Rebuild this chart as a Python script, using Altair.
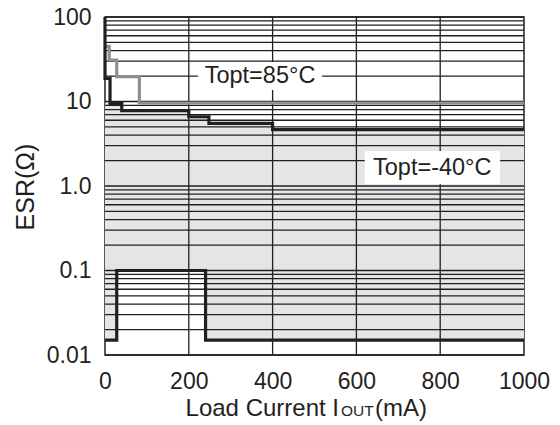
import altair as alt
import pandas as pd

# ---- data ----
# Topt = -40 C upper boundary (black)
black_x = [0, 0, 12, 40, 200, 248, 400, 1000]
black_y = [100, 18.8, 9.5, 7.8, 6.6, 5.5, 4.65, 4.65]
# Topt = 85 C upper boundary (grey)
grey_x = [0, 10, 28, 82, 1000]
grey_y = [45, 31, 19.7, 9.6, 9.6]
# lower boundary
low_x = [0, 28, 240, 1000]
low_y = [0.015, 0.1, 0.015, 0.015]
# stable (shaded) region
fill_x = [0, 12, 28, 40, 200, 240, 248, 400, 1000]
fill_hi = [9.6, 9.5, 9.5, 7.8, 6.6, 6.6, 5.5, 4.65, 4.65]
fill_lo = [0.015, 0.015, 0.1, 0.1, 0.1, 0.015, 0.015, 0.015, 0.015]

x_ticks = [0, 200, 400, 600, 800, 1000]
x_grid = [200, 400, 600, 800]
y_ticks = [0.01, 0.1, 1, 10, 100]
y_grid = [m * d for d in [0.01, 0.1, 1, 10] for m in range(1, 10)] + [100]

labels = ["Topt=85°C", "Topt=-40°C"]
label_x = [370, 781]
label_y = [20.3, 1.65]
box_x1 = [222, 620]
box_x2 = [518, 943]
box_y1 = [13.7, 1.05]
box_y2 = [29.3, 2.6]

FONT = "Liberation Sans"
TXT = "#231f20"
W, H = 419, 338

xs = alt.Scale(domain=[0, 1000], nice=False, zero=False)
ys = alt.Scale(type="log", domain=[0.01, 100], nice=False)

def step(xv, yv, name):
    return pd.DataFrame({"x": xv, "y": yv, "s": name})

fill_df = pd.DataFrame({"x": fill_x, "hi": fill_hi, "lo": fill_lo})
area = alt.Chart(fill_df).mark_area(interpolate="step-after", color="#e4e5e7").encode(
    x=alt.X("x:Q", scale=xs,
            axis=alt.Axis(values=x_ticks, grid=False, ticks=False, domain=False,
                          labelFont=FONT, labelFontSize=23, labelColor=TXT,
                          labelPadding=15, title=None, labelFlush=False,
                          labelExpr="toString(datum.value)")),
    y=alt.Y("hi:Q", scale=ys,
            axis=alt.Axis(values=y_ticks, grid=False, ticks=False, domain=False,
                          labelFont=FONT, labelFontSize=23, labelColor=TXT,
                          labelPadding=14, title=None,
                          labelExpr="datum.value == 1 ? '1.0' : toString(datum.value)")),
    y2="lo:Q",
)

hgrid = alt.Chart(pd.DataFrame({"v": y_grid})).mark_rule(color=TXT, strokeWidth=1.3).encode(
    y=alt.Y("v:Q", scale=ys))
vgrid = alt.Chart(pd.DataFrame({"v": x_grid})).mark_rule(color=TXT, strokeWidth=1.3).encode(
    x=alt.X("v:Q", scale=xs))

grey_line = alt.Chart(step(grey_x, grey_y, "85")).mark_line(
    interpolate="step-after", color="#8e8f91", strokeWidth=3.2).encode(
    x=alt.X("x:Q", scale=xs), y=alt.Y("y:Q", scale=ys))
black_line = alt.Chart(step(black_x, black_y, "-40")).mark_line(
    interpolate="step-after", color="#231f20", strokeWidth=3.2).encode(
    x=alt.X("x:Q", scale=xs), y=alt.Y("y:Q", scale=ys))
low_line = alt.Chart(step(low_x, low_y, "low")).mark_line(
    interpolate="step-after", color="#231f20", strokeWidth=3.2).encode(
    x=alt.X("x:Q", scale=xs), y=alt.Y("y:Q", scale=ys))

lab_df = pd.DataFrame({"t": labels, "x": label_x, "y": label_y,
                       "x1": box_x1, "x2": box_x2, "y1": box_y1, "y2": box_y2})
boxes = alt.Chart(lab_df).mark_rect(color="white").encode(
    x=alt.X("x1:Q", scale=xs), x2="x2:Q",
    y=alt.Y("y1:Q", scale=ys), y2="y2:Q")
texts = alt.Chart(lab_df).mark_text(font=FONT, fontSize=23.5, color=TXT,
                                    align="center", baseline="middle").encode(
    x=alt.X("x:Q", scale=xs), y=alt.Y("y:Q", scale=ys), text="t:N")

# axis titles
ytitle = alt.Chart(pd.DataFrame({"t": ["ESR(Ω)"]})).mark_text(
    font=FONT, fontSize=25, color=TXT, angle=270, align="center", baseline="middle").encode(
    x=alt.value(-79), y=alt.value(170), text="t:N")
xt1 = alt.Chart(pd.DataFrame({"t": ["Load Current I"]})).mark_text(
    font=FONT, fontSize=24, color=TXT, align="right", baseline="alphabetic").encode(
    x=alt.value(234), y=alt.value(399), text="t:N")
xt2 = alt.Chart(pd.DataFrame({"t": ["OUT"]})).mark_text(
    font=FONT, fontSize=15.5, color=TXT, align="left", baseline="alphabetic").encode(
    x=alt.value(236), y=alt.value(399), text="t:N")
xt3 = alt.Chart(pd.DataFrame({"t": ["(mA)"]})).mark_text(
    font=FONT, fontSize=24, color=TXT, align="left", baseline="alphabetic").encode(
    x=alt.value(270), y=alt.value(399), text="t:N")

chart = alt.layer(area, hgrid, vgrid, grey_line, black_line, low_line, boxes, texts,
                  ytitle, xt1, xt2, xt3).properties(
    width=W, height=H,
    autosize=alt.AutoSizeParams(type="none"),
    padding={"left": 97, "top": 9, "right": 28, "bottom": 70},
    background="white",
).configure_view(stroke=TXT, strokeWidth=1.5)

chart.save("out.html", embed_options={"renderer": "svg", "actions": False})
